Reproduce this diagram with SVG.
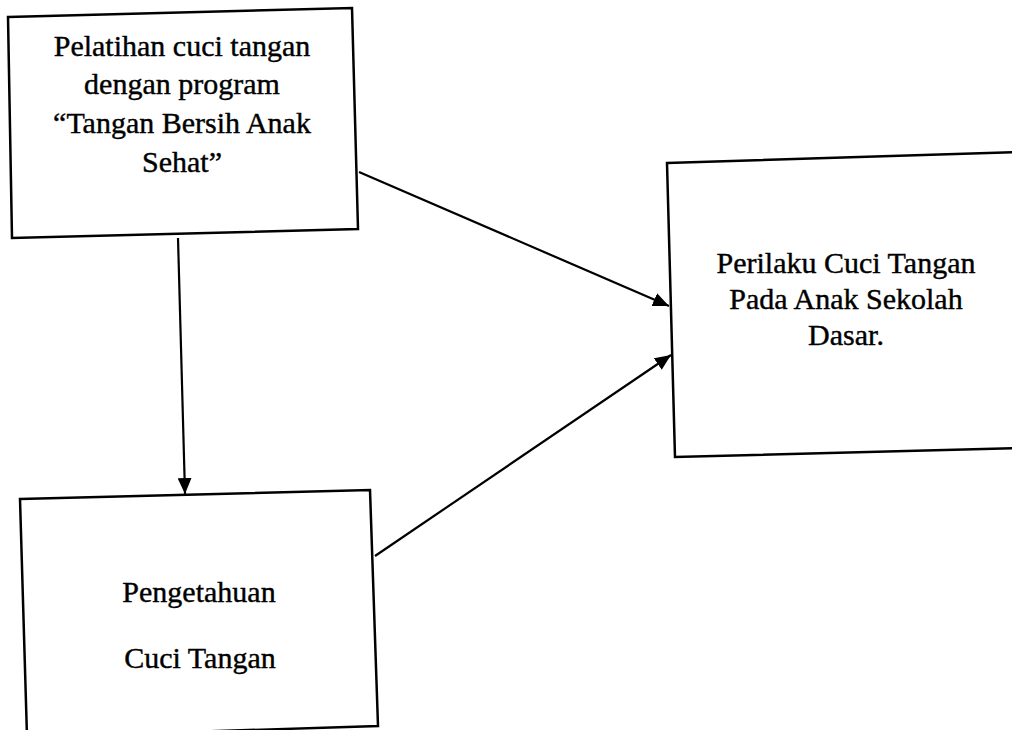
<svg xmlns="http://www.w3.org/2000/svg" width="1012" height="730" viewBox="0 0 1012 730">
  <style>
    .box { fill: #ffffff; stroke: #000000; stroke-width: 2.5; stroke-linejoin: miter; }
    .lbl { font-family: "Liberation Serif", "Times New Roman", serif; font-size: 30px; fill: #000000; stroke: #000000; stroke-width: 0.4; text-anchor: middle; }
    .edge { stroke: #000000; stroke-width: 2.2; fill: none; marker-end: url(#arrow); }
  </style>
  <defs>
    <marker id="arrow" markerUnits="userSpaceOnUse" markerWidth="16" markerHeight="14" refX="16" refY="7" orient="auto">
      <path d="M0,0 L16,7 L0,14 z" fill="#000000"/>
    </marker>
  </defs>
  <rect x="0" y="0" width="1012" height="730" fill="#ffffff"/>

  <g id="node-pelatihan">
    <polygon class="box" points="8,17 352,8 358,229 12,238"/>
    <text class="lbl" x="182" y="56">Pelatihan cuci tangan</text>
    <text class="lbl" x="182" y="94">dengan program</text>
    <text class="lbl" x="182" y="133">“Tangan Bersih Anak</text>
    <text class="lbl" x="182" y="172">Sehat”</text>
  </g>

  <g id="node-perilaku">
    <polygon class="box" points="667,163 1020,152 1020,448 675,457"/>
    <text class="lbl" x="846" y="273">Perilaku Cuci Tangan</text>
    <text class="lbl" x="846" y="309">Pada Anak Sekolah</text>
    <text class="lbl" x="846" y="345">Dasar.</text>
  </g>

  <g id="node-pengetahuan">
    <polygon class="box" points="20,499 370,490 378,726 27,737"/>
    <text class="lbl" x="199" y="602">Pengetahuan</text>
    <text class="lbl" x="200" y="668">Cuci Tangan</text>
  </g>

  <g id="connectors">
    <line class="edge" x1="178" y1="238" x2="185" y2="494"/>
    <line class="edge" x1="359" y1="172" x2="669" y2="306"/>
    <line class="edge" x1="375" y1="556" x2="671" y2="355"/>
  </g>
</svg>
